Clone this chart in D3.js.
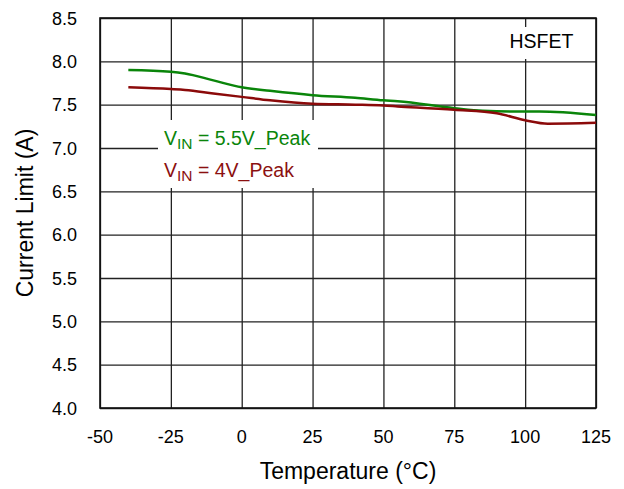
<!DOCTYPE html>
<html>
<head>
<meta charset="utf-8">
<script src="https://cdn.jsdelivr.net/npm/d3@7"></script>
<style>
  body { margin: 0; background: #fff; }
  text { font-family: "Liberation Sans", Arial, sans-serif; }
</style>
</head>
<body>
<div id="chart"></div>
<script>
// data
const temps55 = [-40, -25, -20, -10, 0, 10, 25, 40, 50, 55, 75, 85, 100, 105, 125];
const vin55 = [7.90, 7.88, 7.86, 7.78, 7.70, 7.66, 7.61, 7.58, 7.55, 7.54, 7.46, 7.43, 7.42, 7.42, 7.38];
const temps4 = [-40, -25, -20, -10, 0, 10, 25, 40, 50, 55, 75, 90, 100, 108, 125];
const vin4 = [7.70, 7.68, 7.67, 7.63, 7.59, 7.55, 7.51, 7.50, 7.49, 7.48, 7.44, 7.40, 7.32, 7.28, 7.29];
const xTicks = [-50, -25, 0, 25, 50, 75, 100, 125];
const yTicks = [4.0, 4.5, 5.0, 5.5, 6.0, 6.5, 7.0, 7.5, 8.0, 8.5];

const width = 624;
const height = 489;
const margin = {left: 100, right: 28, top: 18, bottom: 81};

const svg = d3.select("#chart")
.append("svg")
  .attr("width", width)
  .attr("height", height);

const x = d3.scaleLinear().domain([-50, 125]).range([margin.left, width - margin.right]);
const y = d3.scaleLinear().domain([4, 8.5]).range([height - margin.bottom, margin.top]);

// grid
svg.append("g")
  .attr("transform", `translate(0,${height - margin.bottom})`)
  .call(d3.axisBottom(x).tickValues(xTicks).tickSize(-(height - margin.top - margin.bottom)).tickFormat(""))
  .call(g => g.select(".domain").remove())
  .selectAll("line").attr("stroke", "#222").attr("stroke-width", 1.3);

svg.append("g")
  .attr("transform", `translate(${margin.left},0)`)
  .call(d3.axisLeft(y).tickValues(yTicks).tickSize(-(width - margin.left - margin.right)).tickFormat(""))
  .call(g => g.select(".domain").remove())
  .selectAll("line").attr("stroke", "#222").attr("stroke-width", 1.3);

// frame
svg.append("rect")
  .attr("x", margin.left)
  .attr("y", margin.top)
  .attr("width", width - margin.left - margin.right)
  .attr("height", height - margin.top - margin.bottom)
  .attr("fill", "none")
  .attr("stroke", "#111")
  .attr("stroke-width", 1.6);

// tick labels
svg.selectAll("text.xt")
.data(xTicks)
.enter()
.append("text")
  .attr("class", "xt")
  .attr("x", d => x(d))
  .attr("y", height - margin.bottom + 35)
  .attr("text-anchor", "middle")
  .attr("font-size", 18)
  .text(d => d);

svg.selectAll("text.yt")
.data(yTicks)
.enter()
.append("text")
  .attr("class", "yt")
  .attr("x", margin.left - 23)
  .attr("y", d => y(d) + 6.5)
  .attr("text-anchor", "end")
  .attr("font-size", 18)
  .text(d => d.toFixed(1));

// axis titles
svg.append("text")
  .attr("x", (margin.left + width - margin.right) / 2)
  .attr("y", 479)
  .attr("text-anchor", "middle")
  .attr("font-size", 23)
  .text("Temperature (°C)");

svg.append("text")
  .attr("transform", `translate(33,${(margin.top + height - margin.bottom) / 2}) rotate(-90)`)
  .attr("text-anchor", "middle")
  .attr("font-size", 23)
  .text("Current Limit (A)");

// lines
const line = d3.line()
  .x(d => x(d[0]))
  .y(d => y(d[1]))
  .curve(d3.curveMonotoneX);

svg.append("path")
  .datum(temps55.map((t, i) => [t, vin55[i]]))
  .attr("d", line)
  .attr("fill", "none")
  .attr("stroke", "#0a850a")
  .attr("stroke-width", 2.5);

svg.append("path")
  .datum(temps4.map((t, i) => [t, vin4[i]]))
  .attr("d", line)
  .attr("fill", "none")
  .attr("stroke", "#8b0a0a")
  .attr("stroke-width", 2.5);

// legend
svg.append("rect")
  .attr("x", 158).attr("y", 120)
  .attr("width", 160).attr("height", 68)
  .attr("fill", "#fff");

const legend = [
  {v: "= 5.5V_Peak", color: "#0a850a", y: 145},
  {v: "= 4V_Peak", color: "#8b1010", y: 177}
];
legend.forEach(l => {
  const t = svg.append("text")
    .attr("x", 164)
    .attr("y", l.y)
    .attr("fill", l.color)
    .attr("font-size", 19.5);
  t.append("tspan").text("V");
  t.append("tspan").attr("font-size", 15.5).attr("dy", 3.5).text("IN");
  t.append("tspan").attr("dy", -3.5).text(" " + l.v);
});

// HSFET label
svg.append("rect")
  .attr("x", 505).attr("y", 27)
  .attr("width", 74).attr("height", 32)
  .attr("fill", "#fff");
svg.append("text")
  .attr("x", 541.5)
  .attr("y", 47.5)
  .attr("text-anchor", "middle")
  .attr("font-size", 19.5)
  .text("HSFET");
</script>
</body>
</html>
